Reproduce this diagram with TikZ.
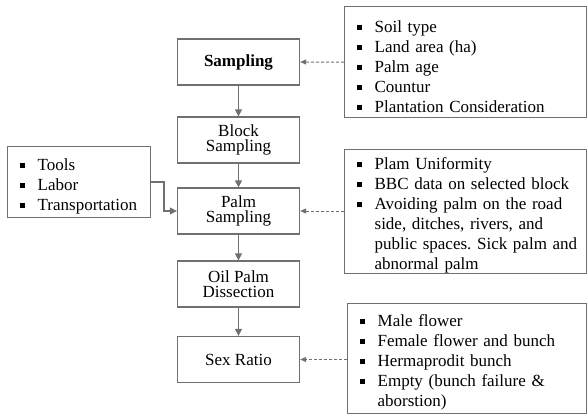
\documentclass[tikz,border=0pt]{standalone}
\usepackage{fontspec}
\setmainfont{Liberation Serif}
\usetikzlibrary{arrows.meta}
\definecolor{edgegray}{HTML}{707070}
\frenchspacing
\hfuzz=20pt
\newcommand{\bitem}[1]{\par\hangindent=18bp\hangafter=1\noindent\makebox[18bp][l]{\raisebox{2.5bp}{\rule{5bp}{5bp}}}#1\par}
\tikzset{
  mainbox/.style={draw=edgegray, line width=1.3bp, minimum width=122bp, minimum height=46bp,
    align=center, font=\fontsize{17bp}{15.5bp}\selectfont, inner sep=0pt},
  listbox/.style={draw=edgegray, line width=1.3bp, anchor=north west, inner xsep=12bp, inner ysep=0pt,
    align=left, font=\fontsize{17bp}{20bp}\selectfont},
  flow/.style={draw=edgegray, line width=1.3bp, -{Triangle[length=7bp,width=7bp]}},
  hint/.style={draw=edgegray, line width=1bp, dash pattern=on 3bp off 2bp, -{Triangle[length=6bp,width=5bp]}}
}
\begin{document}
\begin{tikzpicture}[x=1bp,y=-1bp]
\useasboundingbox (0,0) rectangle (587,415);
% main column
\node[mainbox] (s1) at (238.5,62) {\textbf{Sampling}};
\node[mainbox] (s2) at (238.5,140) {Block\\Sampling};
\node[mainbox] (s3) at (238.5,211) {Palm\\Sampling};
\node[mainbox] (s4) at (238.5,284) {Oil Palm\\Dissection};
\node[mainbox] (s5) at (238.5,359.5) {Sex Ratio};
\draw[flow] (s1) -- (s2);
\draw[flow] (s2) -- (s3);
\draw[flow] (s3) -- (s4);
\draw[flow] (s4) -- (s5);
% side boxes
\node[listbox, text width=218bp, minimum height=111bp] (r1) at (344,6) {%
\bitem{Soil type}\bitem{Land area (ha)}\bitem{Palm age}\bitem{Countur}\bitem{Plantation Consideration}};
\node[listbox, text width=218bp, minimum height=123bp] (r2) at (344,149) {%
\bitem{Plam Uniformity}\bitem{BBC data on selected block}\bitem{\mbox{Avoiding palm on the road}\newline \mbox{side, ditches, rivers, and}\newline \mbox{public spaces. Sick palm and}\newline \mbox{abnormal palm}}};
\node[listbox, text width=215bp, minimum height=110bp] (r3) at (347,303) {%
\bitem{Male flower}\bitem{Female flower and bunch}\bitem{Hermaprodit bunch}\bitem{\mbox{Empty (bunch failure \&}\newline \mbox{aborstion)}}};
\node[listbox, text width=119bp, minimum height=71bp] (l1) at (7,146) {%
\bitem{Tools}\bitem{Labor}\bitem{Transportation}};
% connectors
\draw[hint] (r1.west) -- (s1.east);
\draw[hint] (r2.west |- s3.east) -- (s3.east);
\draw[hint] (r3.west |- s5.east) -- (s5.east);
\coordinate (k1) at (164,182);
\draw[flow] (l1.east |- k1) -- (k1) |- (s3.west);
\end{tikzpicture}
\end{document}
